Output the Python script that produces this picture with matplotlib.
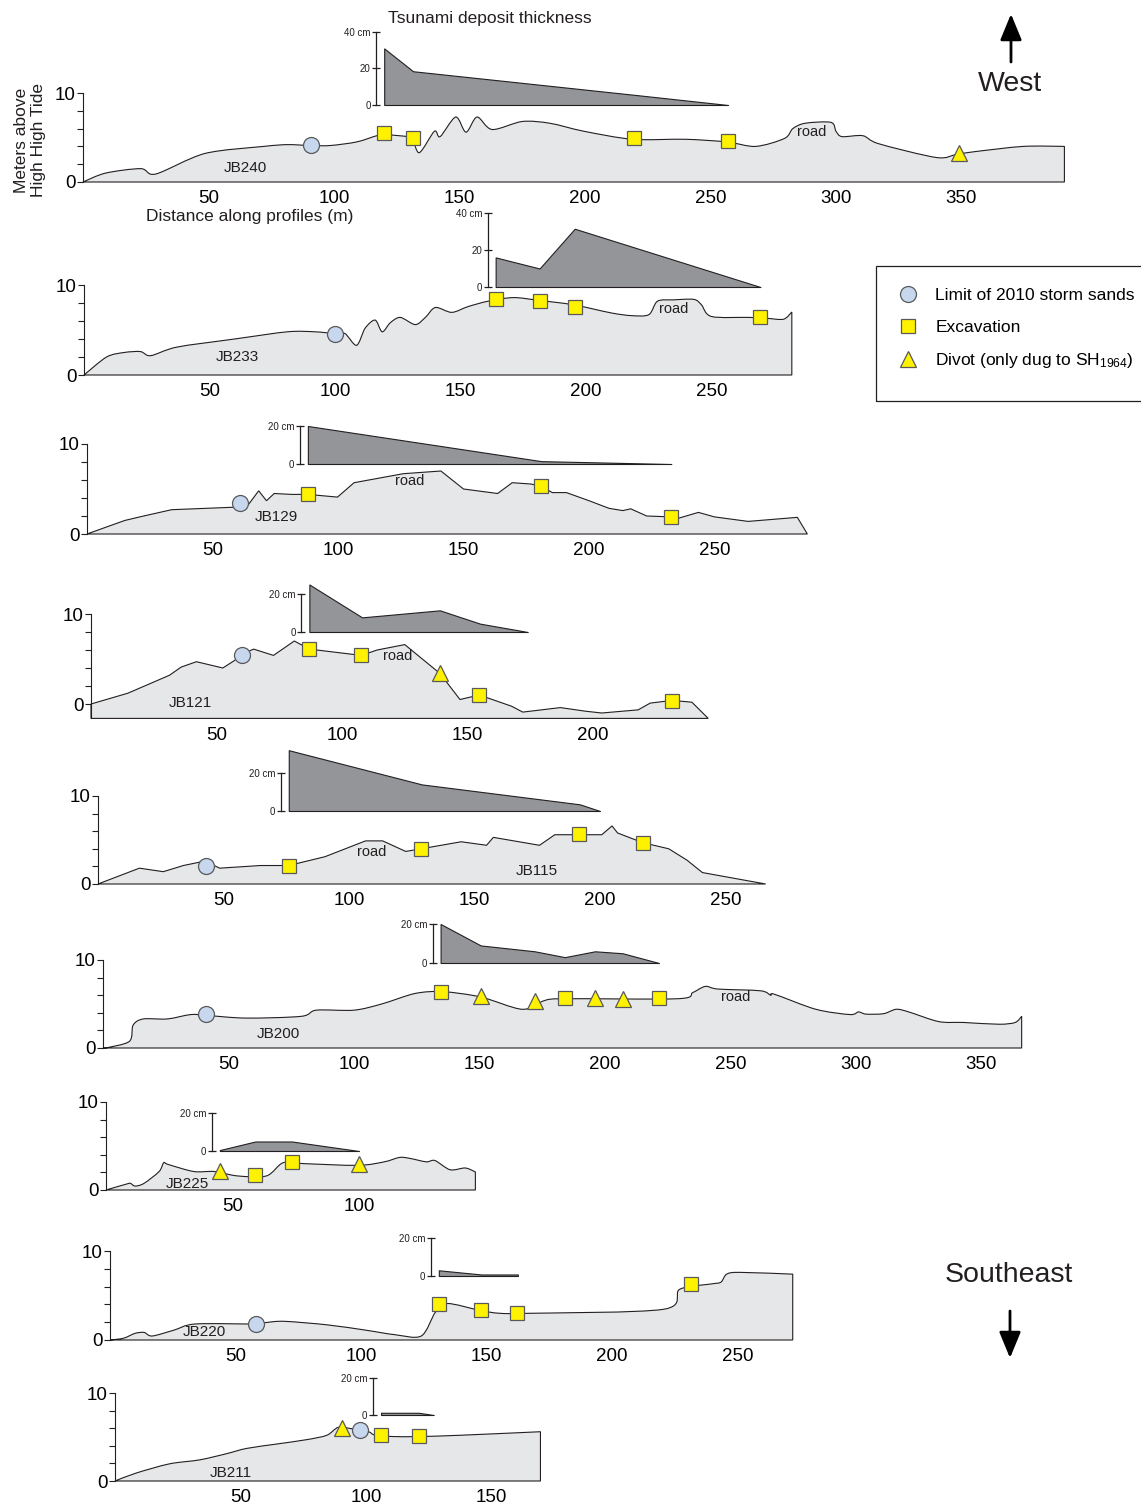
import numpy as np
import matplotlib
matplotlib.use("Agg")
import matplotlib.pyplot as plt
from matplotlib.lines import Line2D
from matplotlib.path import Path
from matplotlib.patches import Rectangle, FancyArrowPatch, PathPatch

# ---------------------------------------------------------------------------
# Topographic profiles: distance along profile (m) and elevation (m above HHT)
# ---------------------------------------------------------------------------
jb240_dist = [0, 9, 23, 29, 48.5, 72, 81.5, 90.5, 98.5, 109, 117, 120, 126, 131, 134, 140, 142.3,
              148.5, 152.6, 157, 163, 175, 186, 199.6, 219, 240, 256.6, 268, 279.5, 282.8, 287.7,
              298, 300, 302.4, 310.7, 317, 340, 348, 355, 374.6, 391]
jb240_elev = [0, 1.0, 1.5, 0.9, 3.2, 4.0, 4.2, 4.1, 4.1, 4.5, 5.2, 5.3, 5.2, 4.9, 3.3, 5.7, 5.1,
              7.3, 5.6, 7.3, 5.9, 6.8, 6.6, 5.7, 4.8, 4.8, 4.5, 4.0, 4.9, 6.0, 6.6,
              6.7, 5.7, 5.1, 5.2, 4.3, 2.75, 3.1, 3.4, 4.0, 4.0]

jb233_dist = [0, 9, 16, 22.5, 26.6, 37, 60, 81, 92, 100, 104, 108.6, 112, 116, 118.8, 122, 126,
              132, 136, 140, 146.5, 153, 161, 171, 181, 195, 210, 218, 225, 228.5, 235, 243, 246,
              250, 265, 272, 278.7, 282]
jb233_elev = [0, 2.0, 2.5, 2.6, 2.15, 3.1, 4.0, 4.8, 4.8, 4.6, 4.6, 3.3, 5.2, 6.1, 4.8, 5.8, 6.4,
              5.6, 6.4, 7.5, 6.96, 7.6, 8.2, 8.6, 8.3, 7.8, 6.9, 6.6, 6.7, 8.2, 8.35, 8.4, 7.8,
              6.5, 6.4, 6.3, 6.2, 7.0]

jb129_dist = [0, 15, 21, 33.7, 60.7, 64.4, 68.4, 71.5, 74.6, 81.5, 88, 99.8, 106.4, 126, 141, 150,
              163.6, 169.4, 177, 181, 185.4, 191, 200, 208, 213.5, 216.6, 223, 232.8, 235, 243.6,
              250, 263.4, 283, 287]
jb129_elev = [0, 1.5, 1.9, 2.7, 3.0, 3.3, 4.8, 3.7, 4.5, 4.4, 4.4, 4.1, 5.7, 6.7, 7.0, 5.0,
              4.5, 5.7, 5.55, 5.3, 4.6, 4.6, 3.7, 2.85, 2.6, 2.8, 2.0, 1.9, 1.7, 2.4,
              1.9, 1.4, 1.85, 0]

jb121_dist = [0, 14.7, 31.3, 35.9, 42, 52.5, 57, 60, 64.8, 72.7, 81, 87, 107.7, 114, 125, 139, 147,
              154.7, 167.6, 172, 187, 197, 203.5, 218, 222.8, 231.5, 239.4, 245.9]
jb121_elev = [0, 1.2, 3.2, 4.1, 4.7, 4.0, 4.8, 5.5, 6.1, 5.4, 7.0, 6.1, 5.4, 6.0, 6.6, 3.4, 0.5,
              1.0, -0.25, -0.9, -0.4, -0.8, -1.0, -0.65, 0.1, 0.4, 0.2, -1.6]

jb115_dist = [0, 16.5, 26, 34, 40.8, 44, 48.5, 64.7, 76, 90.4, 106.6, 113.4, 122.6, 128.7, 144.7,
              154.8, 157.5, 175.9, 182, 191.5, 200.7, 204.8, 207, 217, 227.4, 234.7, 240.8, 266]
jb115_elev = [0, 1.8, 1.4, 2.1, 2.5, 2.4, 1.8, 2.1, 2.1, 3.1, 4.9, 4.9, 3.7, 4.0, 4.8,
              4.4, 5.3, 4.4, 5.6, 5.6, 5.6, 6.6, 5.8, 4.7, 4.0, 2.7, 1.3, 0]

jb200_dist = [0, 1, 10.5, 12, 16, 25.6, 35, 41.5, 57, 79, 85, 100, 111, 124.4, 135.4, 150.5, 167,
              176, 184, 229, 235, 240, 245, 262, 266, 267.6, 284, 297.6, 301, 304, 311, 316, 321,
              333, 343, 357, 363.4, 366]
jb200_elev = [0, 0, 0.75, 2.6, 3.3, 3.3, 3.8, 3.7, 3.4, 3.6, 4.3, 4.3, 5.0, 6.2, 6.4, 5.8, 4.4,
              5.4, 5.6, 5.6, 6.3, 7.0, 6.7, 6.5, 6.0, 6.1, 4.4, 3.8, 4.1, 3.85, 3.9, 4.4, 4.1,
              3.0, 2.9, 2.7, 2.9, 3.6]

jb225_dist = [0, 8.4, 9.7, 11.5, 15, 21, 22.8, 24.6, 34.7, 42.8, 52, 63.4, 70, 78, 99.6, 110, 116,
              120, 126.6, 130, 136, 142, 146]
jb225_elev = [0, 0.7, 0.75, 0.45, 0.75, 2.1, 3.1, 2.9, 2.1, 2.1, 1.6, 1.6, 3.1, 3.0, 2.8, 3.2, 3.7,
              3.6, 3.2, 3.35, 2.3, 2.5, 2.05]

jb220_dist = [0, 5.4, 10, 13.6, 16.8, 25.4, 34, 58, 61.8, 69.4, 86.6, 102, 113.4, 124, 129.6, 134.4,
              147.8, 155.4, 167, 220.5, 227, 239.6, 243.4, 245.7, 251, 272]
jb220_elev = [0, 0.2, 0.75, 0.85, 0.45, 1.1, 1.8, 1.8, 1.95, 2.1, 1.7, 1.1, 0.6, 0.45, 3.1, 4.1,
              3.3, 3.0, 3.0, 3.45, 5.7, 6.3, 6.5, 7.4, 7.6, 7.4]

jb211_dist = [0, 8.4, 21.7, 33.7, 44.4, 52.4, 64.4, 76.4, 84.4, 89, 95, 101, 103.7, 111, 121, 137.7, 169.5]
jb211_elev = [0, 0.9, 1.95, 2.4, 3.1, 3.7, 4.2, 4.7, 5.2, 6.1, 5.9, 5.6, 5.2, 5.05, 5.05, 5.2, 5.6]

# ---------------------------------------------------------------------------
# Sample sites: (distance, elevation)
# ---------------------------------------------------------------------------
jb240_storm = [(91, 4.2)]
jb240_excav = [(120, 5.45), (131.5, 4.9), (219.5, 4.9), (256.8, 4.6)]
jb240_divot = [(349, 3.3)]

jb233_storm = [(100, 4.6)]
jb233_excav = [(164, 8.4), (181.5, 8.2), (195.5, 7.6), (269.5, 6.4)]
jb233_divot = []

jb129_storm = [(61, 3.4)]
jb129_excav = [(88, 4.4), (181, 5.3), (232.8, 1.9)]
jb129_divot = []

jb121_storm = [(60, 5.5)]
jb121_excav = [(87, 6.15), (107.7, 5.45), (154.7, 1.0), (231.5, 0.3)]
jb121_divot = [(139, 3.5)]

jb115_storm = [(43, 2.1)]
jb115_excav = [(76, 2.1), (128.7, 3.95), (191.5, 5.65), (217, 4.7)]
jb115_divot = []

jb200_storm = [(41, 3.9)]
jb200_excav = [(134.5, 6.4), (184, 5.7), (221.5, 5.7)]
jb200_divot = [(150.5, 5.9), (172, 5.3), (196, 5.7), (207, 5.6)]

jb225_storm = []
jb225_excav = [(59, 1.65), (73.5, 3.2)]
jb225_divot = [(45, 2.2), (100, 3.0)]

jb220_storm = [(58, 1.85)]
jb220_excav = [(131, 4.0), (148, 3.35), (162, 3.0), (231.5, 6.3)]
jb220_divot = []

jb211_storm = [(97.5, 5.8)]
jb211_excav = [(106, 5.2), (121, 5.1)]
jb211_divot = [(90.5, 6.0)]

# ---------------------------------------------------------------------------
# Tsunami deposit thickness (cm) along each profile
# ---------------------------------------------------------------------------
jb240_thk_dist = [120, 131.5, 219.5, 257]
jb240_thk_cm = [31, 18.5, 5.6, 0]
jb233_thk_dist = [164, 181.5, 195.5, 269.5]
jb233_thk_cm = [16, 10, 31.5, 0]
jb129_thk_dist = [88, 181, 232.8]
jb129_thk_cm = [20, 1.5, 0]
jb121_thk_dist = [87, 108, 139, 155, 174]
jb121_thk_cm = [25, 7.7, 11.4, 4.4, 0]
jb115_thk_dist = [76, 129, 192, 200]
jb115_thk_cm = [32, 14, 3.5, 0]
jb200_thk_dist = [134.5, 150.5, 172, 184, 196, 207, 221.5]
jb200_thk_cm = [20, 9, 6, 3, 6, 5, 0]
jb225_thk_dist = [45, 59, 73.5, 100]
jb225_thk_cm = [0.5, 5, 5, 0]
jb220_thk_dist = [131, 148, 162.5]
jb220_thk_cm = [3, 0.8, 0.8]
jb211_thk_dist = [106, 121, 127]
jb211_thk_cm = [1.2, 1.2, 0]

profile_names = ['JB240', 'JB233', 'JB129', 'JB121', 'JB115', 'JB200', 'JB225', 'JB220', 'JB211']

profiles = [
    dict(dist=jb240_dist, elev=jb240_elev, storm=jb240_storm, excav=jb240_excav, divot=jb240_divot,
         tdist=jb240_thk_dist, tcm=jb240_thk_cm),
    dict(dist=jb233_dist, elev=jb233_elev, storm=jb233_storm, excav=jb233_excav, divot=jb233_divot,
         tdist=jb233_thk_dist, tcm=jb233_thk_cm),
    dict(dist=jb129_dist, elev=jb129_elev, storm=jb129_storm, excav=jb129_excav, divot=jb129_divot,
         tdist=jb129_thk_dist, tcm=jb129_thk_cm),
    dict(dist=jb121_dist, elev=jb121_elev, storm=jb121_storm, excav=jb121_excav, divot=jb121_divot,
         tdist=jb121_thk_dist, tcm=jb121_thk_cm),
    dict(dist=jb115_dist, elev=jb115_elev, storm=jb115_storm, excav=jb115_excav, divot=jb115_divot,
         tdist=jb115_thk_dist, tcm=jb115_thk_cm),
    dict(dist=jb200_dist, elev=jb200_elev, storm=jb200_storm, excav=jb200_excav, divot=jb200_divot,
         tdist=jb200_thk_dist, tcm=jb200_thk_cm),
    dict(dist=jb225_dist, elev=jb225_elev, storm=jb225_storm, excav=jb225_excav, divot=jb225_divot,
         tdist=jb225_thk_dist, tcm=jb225_thk_cm),
    dict(dist=jb220_dist, elev=jb220_elev, storm=jb220_storm, excav=jb220_excav, divot=jb220_divot,
         tdist=jb220_thk_dist, tcm=jb220_thk_cm),
    dict(dist=jb211_dist, elev=jb211_elev, storm=jb211_storm, excav=jb211_excav, divot=jb211_divot,
         tdist=jb211_thk_dist, tcm=jb211_thk_cm),
]

# ---------------------------------------------------------------------------
# Panel layout (pixels): x of 0 m, y of 0 m, y of 10 m, lowest elevation,
# profile length, px per m, y of 0 cm and 20 cm in the thickness inset,
# inset scale, smooth outline
# ---------------------------------------------------------------------------
layout = [
    (83, 182, 93, 0, 391, 2.51, 105, 68.5, 40, True),
    (84, 375, 285, 0, 282, 2.51, 287, 250, 40, True),
    (87, 534, 444, 0, 287, 2.51, 464, 426, 20, False),
    (91, 704, 614, -1.6, 246, 2.51, 632, 594, 20, False),
    (98, 884, 796, 0, 266, 2.51, 811, 773, 20, False),
    (103, 1048, 960, 0, 366, 2.51, 963, 924, 20, True),
    (106, 1190, 1102, 0, 146, 2.53, 1151, 1113, 20, True),
    (110, 1340, 1251, 0, 272, 2.51, 1276, 1238, 20, True),
    (115, 1481, 1393, 0, 170, 2.51, 1415, 1378, 20, True),
]
# text placement of the profile name and "road" annotation (data coordinates)
name_pos = [(64.5, 1.6), (61, 2.0), (75.5, 1.9), (39.5, 0.1), (175, 1.5), (70, 1.6),
            (32, 0.7), (37.5, 0.9), (46, 0.9)]
road_pos = [(290.5, 5.6), (235, 7.3), (128.5, 5.9), (122, 5.3), (109, 3.6), (252, 5.8),
            None, None, None]

plt.rcParams['font.family'] = ['Liberation Sans', 'DejaVu Sans']
plt.rcParams['mathtext.default'] = 'regular'

W, H = 1141, 1504
fig = plt.figure(figsize=(W / 100, H / 100), dpi=100)


def fx(px):
    return px / W


def fy(py):
    return 1 - py / H


FILL = '#e6e7e8'
LINE = '#231f20'
DEP = '#939598'
CIRC = '#c6d7ee'
YEL = '#fff200'
MEDGE = '#58595b'
TICKFONT = 13.5


def ground_path(xs, ys, base, smooth, k=0.9):
    """Closed outline of a profile down to the base level; optionally drawn
    as a Catmull-Rom curve through the surveyed points."""
    pts = np.column_stack([xs, ys]).astype(float)
    n = len(pts)
    verts = [(pts[0, 0], base), tuple(pts[0])]
    codes = [Path.MOVETO, Path.LINETO]
    for i in range(n - 1):
        if smooth:
            p0 = pts[i - 1] if i > 0 else pts[i]
            p1, p2 = pts[i], pts[i + 1]
            p3 = pts[i + 2] if i + 2 < n else pts[i + 1]
            c1 = p1 + (p2 - p0) / 6.0 * k
            c2 = p2 - (p3 - p1) / 6.0 * k
            verts += [tuple(c1), tuple(c2), tuple(p2)]
            codes += [Path.CURVE4] * 3
        else:
            verts.append(tuple(pts[i + 1]))
            codes.append(Path.LINETO)
    verts += [(pts[-1, 0], base), (pts[0, 0], base)]
    codes += [Path.LINETO, Path.CLOSEPOLY]
    return Path(verts, codes)


def draw_panel(p, lay, name, npos, rpos):
    x0, y0, y10, ybot, xmax, pxm, t0, t20, tscale, smooth = lay
    pym = (y0 - y10) / 10.0
    ybot_px = y0 - ybot * pym
    ax = fig.add_axes([fx(x0), fy(ybot_px), xmax * pxm / W, (ybot_px - y10) / H])
    ax.set_xlim(0, xmax)
    ax.set_ylim(ybot, 10)
    ax.patch.set_visible(False)
    ax.add_patch(PathPatch(ground_path(p['dist'], p['elev'], ybot, smooth), facecolor=FILL,
                           edgecolor=LINE, linewidth=0.8, clip_on=False, zorder=1))
    for key, mk, ms, fc in (('storm', 'o', 11.5, CIRC), ('excav', 's', 10.5, YEL),
                            ('divot', '^', 11.5, YEL)):
        pts = p[key]
        if pts:
            xs, ys = zip(*pts)
            ax.plot(xs, ys, linestyle='none', marker=mk, ms=ms, mfc=fc, mec=MEDGE,
                    mew=0.9, clip_on=False, zorder=4)
    for s in ('top', 'right', 'bottom'):
        ax.spines[s].set_visible(False)
    ax.spines['left'].set_linewidth(0.8)
    ax.spines['left'].set_color(LINE)
    ax.set_yticks([0, 2, 4, 6, 8, 10])
    ax.set_yticklabels(['0', '', '', '', '', '10'])
    ax.tick_params(axis='y', length=4, width=0.8, color=LINE, labelsize=TICKFONT, pad=1.5)
    ax.set_xticks(np.arange(50, xmax + 1, 50))
    ax.tick_params(axis='x', length=0, labelsize=TICKFONT, pad=6)
    ax.text(npos[0], npos[1], name, fontsize=11, ha='center', va='center', color=LINE, zorder=3)
    if rpos is not None:
        ax.text(rpos[0], rpos[1], 'road', fontsize=10.5, ha='center', va='center', color=LINE,
                zorder=3)

    # deposit-thickness inset sharing the distance scale
    pxcm = (t0 - t20) / 20.0
    tmax = max(tscale, max(p['tcm'])) + 1
    ins = fig.add_axes([fx(x0), fy(t0), xmax * pxm / W, tmax * pxcm / H])
    ins.set_xlim(0, xmax)
    ins.set_ylim(0, tmax)
    ins.patch.set_visible(False)
    ins.fill_between(p['tdist'], 0, p['tcm'], facecolor=DEP, edgecolor=LINE,
                     linewidth=0.8, clip_on=False)
    for s in ('top', 'right', 'bottom'):
        ins.spines[s].set_visible(False)
    ins.spines['left'].set_position(('data', p['tdist'][0] - 3.2))
    ins.spines['left'].set_bounds(0, tscale)
    ins.spines['left'].set_linewidth(0.9)
    ins.spines['left'].set_color(LINE)
    if tscale == 40:
        ins.set_yticks([0, 20, 40])
        ins.set_yticklabels(['0', '20', '40 cm'])
    else:
        ins.set_yticks([0, 20])
        ins.set_yticklabels(['0', '20 cm'])
    ins.tick_params(axis='y', direction='inout', length=6, width=0.9, color=LINE,
                    labelsize=7, pad=1, labelcolor=LINE)
    ins.set_xticks([])


for p, lay, name, npos, rpos in zip(profiles, layout, profile_names, name_pos, road_pos):
    draw_panel(p, lay, name, npos, rpos)

# titles and axis descriptions
fig.text(fx(490), fy(18), 'Tsunami deposit thickness', fontsize=12.5, ha='center', va='center',
         color=LINE)
fig.text(fx(30), fy(140), 'Meters above\nHigh High Tide', fontsize=12.5, rotation=90,
         ha='center', va='center', linespacing=1.15, color=LINE)
fig.text(fx(250), fy(216), 'Distance along profiles (m)', fontsize=12.5, ha='center',
         va='center', color=LINE)

# orientation arrows
fig.text(fx(1010), fy(84), 'West', fontsize=20.5, ha='center', va='center', color=LINE)
fig.text(fx(1009), fy(1275), 'Southeast', fontsize=20.5, ha='center', va='center', color=LINE)
ARROW = '-|>,head_length=0.8,head_width=0.33'
fig.add_artist(FancyArrowPatch((fx(1011), fy(62)), (fx(1011), fy(14)), transform=fig.transFigure,
                               arrowstyle=ARROW, mutation_scale=20, lw=2, color='black',
                               shrinkA=0, shrinkB=0))
fig.add_artist(FancyArrowPatch((fx(1010), fy(1311)), (fx(1010), fy(1358)),
                               transform=fig.transFigure, arrowstyle=ARROW,
                               mutation_scale=20, lw=2, color='black', shrinkA=0, shrinkB=0))

# legend
fig.add_artist(Rectangle((fx(876), fy(401)), 320 / W, 135 / H, transform=fig.transFigure,
                         fill=False, edgecolor=LINE, linewidth=0.9))
handles = [
    Line2D([], [], linestyle='none', marker='o', ms=11.5, mfc=CIRC, mec=MEDGE, mew=0.9),
    Line2D([], [], linestyle='none', marker='s', ms=10.5, mfc=YEL, mec=MEDGE, mew=0.9),
    Line2D([], [], linestyle='none', marker='^', ms=11.5, mfc=YEL, mec=MEDGE, mew=0.9),
]
labels = ['Limit of 2010 storm sands', 'Excavation', 'Divot (only dug to SH$_{1964}$)']
fig.legend(handles, labels, loc='upper left', bbox_to_anchor=(fx(897), fy(288)),
           frameon=False, fontsize=12.5, borderpad=0, borderaxespad=0, handlelength=1.3,
           handletextpad=0.9, labelspacing=0.95)

fig.savefig('out.png', dpi=100)
